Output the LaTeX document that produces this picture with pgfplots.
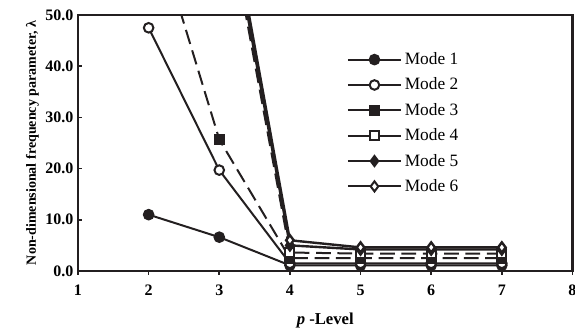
\documentclass[border=0pt]{standalone}
\usepackage{fontspec}
\setmainfont{Liberation Serif}
\usepackage{pgfplots}
\pgfplotsset{compat=1.18}
\definecolor{ink}{HTML}{231F20}
\begin{document}
\begin{tikzpicture}
\begin{axis}[
  name=ax,
  scale only axis,
  width=370.9pt, height=192pt,
  xmin=1, xmax=8, ymin=0, ymax=50,
  xtick={1,2,3,4,5,6,7,8},
  ytick={0,10,20,30,40,50},
  axis line style={line width=1.6pt, ink},
  major tick length=3pt,
  tick style={line width=1.2pt, ink},
  xtick pos=bottom, ytick pos=left,
  xtick align=outside, ytick align=inside,
  /pgf/number format/assume math mode=true,
  yticklabel style={/pgf/number format/.cd, fixed, fixed zerofill, precision=1},
  xticklabel style={yshift=-4pt},
  ticklabel style={font=\fontsize{12}{12}\selectfont\bfseries},
  xlabel={\textit{p} -Level},
  ylabel={Non-dimensional frequency parameter, λ},
  xlabel style={font=\fontsize{12.5}{13}\selectfont\bfseries, yshift=-6pt},
  ylabel style={font=\fontsize{10.5}{11}\selectfont\bfseries, yshift=-2pt},
  clip=true,
  legend cell align=left,
  legend style={draw=none, fill=none, at={(0.535,0.875)}, anchor=north west,
    font=\fontsize{13}{13}\selectfont, row sep=4.5pt},
  legend image code/.code={\draw[mark repeat=2,mark phase=2,#1,solid,line width=1.5pt] plot coordinates {(0pt,0pt)(20pt,0pt)(40pt,0pt)};},
  every axis plot/.append style={ink},
]
\addplot[line width=1.5pt, mark=*, mark size=3.6pt, mark options={solid,fill=ink}] coordinates {(2,11.0)(3,6.6)(4,1.1)(5,1.1)(6,1.1)(7,1.1)};
\addlegendentry{Mode 1}
\addplot[line width=1.5pt, mark=*, mark size=3.6pt, mark options={solid,fill=white}] coordinates {(2,47.5)(3,19.7)(4,1.5)(5,1.5)(6,1.5)(7,1.5)};
\addlegendentry{Mode 2}
\addplot[line width=1.5pt, dash pattern=on 11pt off 5pt, mark=square*, mark size=3.4pt, mark options={solid,fill=ink}] coordinates {(2,71)(3,25.7)(4,2.5)(5,2.5)(6,2.5)(7,2.5)};
\addlegendentry{Mode 3}
\addplot[line width=1.5pt, dash pattern=on 11pt off 5pt, mark=square*, mark size=3.4pt, mark options={solid,fill=white}] coordinates {(2,120)(3,78)(4,3.6)(5,3.4)(6,3.4)(7,3.4)};
\addlegendentry{Mode 4}
\addplot[line width=1.8pt, mark=diamond*, mark size=3.8pt, mark options={solid,fill=ink}] coordinates {(2,130)(3,80)(4,5.0)(5,4.2)(6,4.2)(7,4.2)};
\addlegendentry{Mode 5}
\addplot[line width=1.8pt, mark=diamond*, mark size=3.8pt, mark options={solid,fill=white}] coordinates {(2,140)(3,82)(4,6.0)(5,4.6)(6,4.6)(7,4.6)};
\addlegendentry{Mode 6}
\end{axis}
\pgfresetboundingbox
\path[use as bounding box] ([xshift=-58.5pt,yshift=-44.25pt]ax.south west) rectangle ([xshift=1.9pt,yshift=11.25pt]ax.north east);
\end{tikzpicture}
\end{document}
